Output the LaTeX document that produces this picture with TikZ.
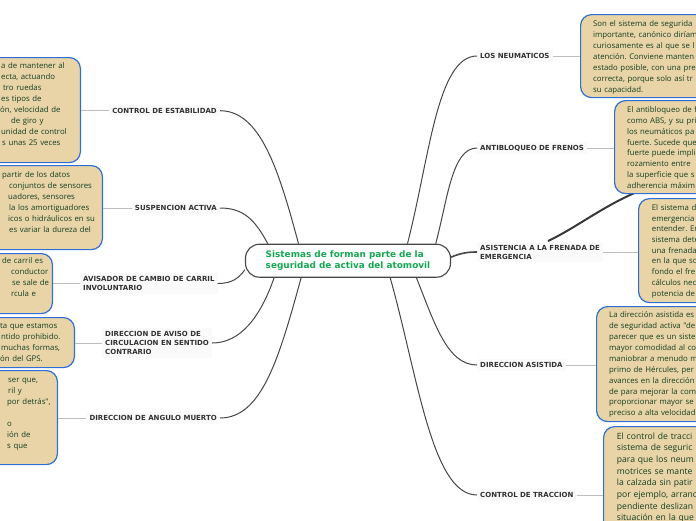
\documentclass[tikz,border=0pt]{standalone}
\usepackage{fontspec}
\newfontfamily\topicfont{DejaVu Sans}
\newfontfamily\notefont{Open Sans}
\usetikzlibrary{positioning}
\frenchspacing

\definecolor{notefill}{RGB}{233,212,168}
\definecolor{noteedge}{RGB}{45,110,215}
\definecolor{notetext}{RGB}{18,62,32}
\definecolor{rootgreen}{RGB}{20,168,80}
\definecolor{branchgray}{RGB}{70,70,70}
\definecolor{linkgray}{RGB}{190,190,190}
\definecolor{topicgray}{RGB}{50,50,50}
\definecolor{topicbg}{RGB}{250,250,250}

\begin{document}
\begin{tikzpicture}[x=1pt, y=-1pt,
root/.style={draw=branchgray, line width=1.1pt, rounded corners=14pt, fill=white, minimum width=205pt, minimum height=33pt, align=left, text=rootgreen, font=\topicfont\bfseries\fontsize{8.9}{11}\selectfont},
topic/.style={fill=topicbg, inner sep=3pt, align=left, text=topicgray, font=\topicfont\bfseries\fontsize{7}{9}\selectfont},
notebox/.style={draw=noteedge, line width=1.2pt, fill=notefill, rounded corners=11pt, inner sep=0pt},
note/.style={inner sep=0pt, text width=170pt, align=left, anchor=base west, text=notetext, font=\notefont\fontsize{7.8}{11}\selectfont},
branch/.style={draw=branchgray, line width=1pt},
link/.style={draw=linkgray, line width=1pt}
]
\useasboundingbox (0,0) rectangle (696,520);
\clip (0,0) rectangle (696,520);

% centre and topics
\node[root] (root) at (348,260.7) {Sistemas de forman parte de la\\seguridad de activa del atomovil};

\node[topic, anchor=east] (lEst) at (220,110.7) {CONTROL DE ESTABILIDAD};
\node[topic, anchor=east] (lSusp) at (220,208) {SUSPENCION ACTIVA};
\node[topic, anchor=west] (lAvis) at (80,283.5) {AVISADOR DE CAMBIO DE CARRIL\\INVOLUNTARIO};
\node[topic, anchor=west] (lCirc) at (102,343) {DIRECCION DE AVISO DE\\CIRCULACION EN SENTIDO\\CONTRARIO};
\node[topic, anchor=east] (lAng) at (220,418) {DIRECCION DE ANGULO MUERTO};

\node[topic, anchor=west] (rNeu) at (477,56) {LOS NEUMATICOS};
\node[topic, anchor=west] (rAbs) at (477,148) {ANTIBLOQUEO DE FRENOS};
\node[topic, anchor=west] (rAsis) at (477,252) {ASISTENCIA A LA FRENADA DE\\EMERGENCIA};
\node[topic, anchor=west] (rDir) at (477,365) {DIRECCION ASISTIDA};
\node[topic, anchor=west] (rTrac) at (477,495) {CONTROL DE TRACCION};

% branches
\draw[branch] (lEst.east) .. controls +(40,0) and +(-20,-75) .. (root.161);
\draw[branch] (lSusp.east) .. controls +(25,0) and +(-12,-22) .. (root.168);
\draw[branch] (lAvis.east) .. controls +(15,0) and +(-6,8) .. (root.185);
\draw[branch] (lCirc.east) .. controls +(28,0) and +(-14,40) .. (root.193);
\draw[branch] (lAng.east) .. controls +(42,0) and +(-22,80) .. (root.200);
\draw[branch] (root.16) .. controls +(22,-85) and +(-40,0) .. (rNeu.west);
\draw[branch] (root.11.5) .. controls +(12,-45) and +(-25,0) .. (rAbs.west);
\draw[branch, line width=1.6pt] (root.2) .. controls +(10,-4) and +(-10,0) .. (rAsis.west);
\draw[branch] (root.346) .. controls +(18,45) and +(-30,0) .. (rDir.west);
\draw[branch] (root.338) .. controls +(28,100) and +(-45,0) .. (rTrac.west);

% stray stroke under the ABS note
\coordinate (strayA) at (655,185);
\coordinate (strayB) at (548,241);
\draw[draw=branchgray!80!black, line width=2pt] (strayA) .. controls (610,200) and (580,226) .. (strayB);

% note boxes, left
\node[notebox, minimum width=160pt, minimum height=105pt, anchor=north east] (nEst) at (81,57) {};
\node[notebox, minimum width=160pt, minimum height=84pt, anchor=north east] (nSusp) at (103,165) {};
\node[notebox, minimum width=160pt, minimum height=60pt, anchor=north east] (nAvis) at (53,253) {};
\node[notebox, minimum width=160pt, minimum height=50pt, anchor=north east] (nCirc) at (75,317) {};
\node[notebox, minimum width=160pt, minimum height=94pt, anchor=north east] (nAng) at (58,370) {};

% note boxes, right
\node[notebox, minimum width=160pt, minimum height=83pt, anchor=north west] (nNeu) at (580,14) {};
\node[notebox, minimum width=160pt, minimum height=93pt, anchor=north west] (nAbs) at (614,100) {};
\node[notebox, minimum width=160pt, minimum height=104pt, anchor=north west] (nAsis) at (638,198) {};
\node[notebox, minimum width=160pt, minimum height=115pt, anchor=north west] (nDir) at (596,306) {};
\node[notebox, minimum width=160pt, minimum height=140pt, anchor=north west] (nTrac) at (603,426) {};

% note texts
\node[note] (tEst) at (0,68.4) {\hspace*{1pt}a de mantener al\\\hspace*{1pt}ecta, actuando\\\hspace*{3pt}tro ruedas\\\hspace*{1pt}es tipos de\\ón, velocidad de\\\hspace*{11pt}de giro y\\\hspace*{1pt}unidad de control\\\hspace*{2pt}s unas 25 veces};
\node[note] (tSusp) at (0,177.7) {\hspace*{2pt}partir de los datos\\\hspace*{9pt}conjuntos de sensores\\\hspace*{8pt}uadores, sensores\\\hspace*{9pt}la los amortiguadores\\\hspace*{8pt}icos o hidráulicos en su\\\hspace*{9pt}es variar la dureza del};
\node[note] (tAvis) at (0,263.4) {\hspace*{2pt}de carril es\\\hspace*{11pt}conductor\\\hspace*{12pt}se sale de\\\hspace*{11pt}rcula e};
\node[note] (tCirc) at (0,328.4) {ta que estamos\\\hspace*{1pt}ntido prohibido.\\\hspace*{1pt}muchas formas,\\ón del GPS.};
\node[note] (tAng) at (0,382.7) {\hspace*{8pt}ser que,\\\hspace*{8pt}ril y\\\hspace*{7pt}por detrás",\\\mbox{}\\\hspace*{7pt}o\\\hspace*{7pt}ión de\\\hspace*{7pt}s que};

\node[note] (tNeu) at (593,26) {Son el sistema de segurida\\importante, canónico diríam\\curiosamente es al que se l\\atención. Conviene manten\\estado posible, con una pre\\correcta, porque solo así tr\\su capacidad.};
\node[note, font=\notefont\fontsize{7.8}{10.8}\selectfont] (tAbs) at (627,112.7) {El antibloqueo de f\\como ABS, y su pri\\los neumáticos pa\\fuerte. Sucede que\\fuerte puede impli\\rozamiento entre\\la superficie que s\\adherencia máxim};
\node[note, font=\notefont\fontsize{7.8}{10.7}\selectfont] (tAsis) at (651.7,210.4) {El sistema d\\emergencia\\entender. En\\sistema dete\\una frenada\\en la que so\\fondo el fre\\cálculos nec\\potencia de};
\node[note, font=\notefont\fontsize{7.8}{10.9}\selectfont] (tDir) at (609,317.7) {La dirección asistida es\\de seguridad activa "de\\parecer que es un siste\\mayor comodidad al co\\maniobrar a menudo m\\primo de Hércules, per\\avances en la dirección\\de para mejorar la com\\proporcionar mayor se\\preciso a alta velocidad};
\node[note, font=\notefont\fontsize{8.6}{11.7}\selectfont] (tTrac) at (616.7,439) {El control de tracci\\sistema de seguric\\para que los neum\\motrices se mante\\la calzada sin patir\\por ejemplo, arranc\\pendiente deslizan\\situación en la que};

% links topic -> note
\draw[link] (lEst.west) -- (lEst.west -| nEst.east);
\draw[link] (lSusp.west) -- (lSusp.west -| nSusp.east);
\draw[link] (lAvis.west) -- (lAvis.west -| nAvis.east);
\draw[link] (lCirc.west) -- (lCirc.west -| nCirc.east);
\draw[link] (lAng.west) -- (lAng.west -| nAng.east);
\draw[link] (rNeu.east) -- (rNeu.east -| nNeu.west);
\draw[link] (rAbs.east) -- (rAbs.east -| nAbs.west);
\draw[link] (rAsis.east) -- (rAsis.east -| nAsis.west);
\draw[link] (rDir.east) -- (rDir.east -| nDir.west);
\draw[link] (rTrac.east) -- (rTrac.east -| nTrac.west);
\end{tikzpicture}
\end{document}
